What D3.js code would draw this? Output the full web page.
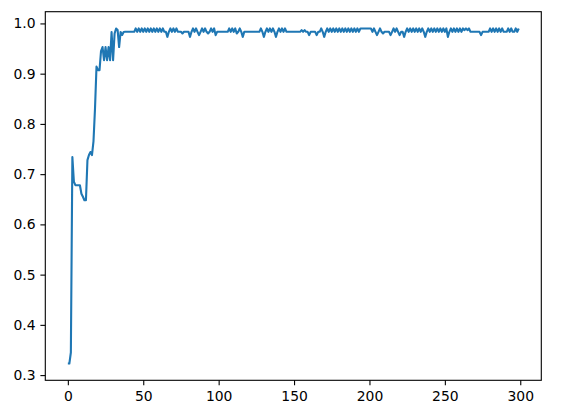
<!DOCTYPE html>
<html>
<head>
<meta charset="utf-8">
<script src="https://cdn.jsdelivr.net/npm/d3@7"></script>
<style>
	body { margin: 0; background: #fff; }
	.tick text { font-family: "DejaVu Sans", sans-serif; font-size: 13.9px; fill: #000; }
	.tick line { stroke: #000; stroke-width: 1.1px; }
</style>
</head>
<body>
<div id="chart"></div>
<script>
var width = 566;
var height = 420;

// accuracy per epoch
var accuracy = [
	0.323, 0.323, 0.345, 0.734, 0.685, 0.678, 0.678, 0.678, 0.678, 0.661,
	0.655, 0.648, 0.648, 0.728, 0.738, 0.744, 0.738, 0.765, 0.83, 0.914,
	0.907, 0.907, 0.945, 0.953, 0.927, 0.953, 0.927, 0.953, 0.927, 0.983,
	0.927, 0.98, 0.99, 0.987, 0.953, 0.983, 0.977, 0.983,
	0.9833, 0.9833, 0.9833, 0.9833, 0.9833, 0.9833, 0.9833, 0.99, 0.9833, 0.99,
	0.9833, 0.99, 0.9833, 0.99, 0.9833, 0.99, 0.9833, 0.99, 0.9833, 0.99,
	0.9833, 0.99, 0.9833, 0.99, 0.9833, 0.99, 0.9833, 0.9833, 0.9733, 0.9833,
	0.99, 0.9833, 0.99, 0.9833, 0.99, 0.9833, 0.9833, 0.9833, 0.98, 0.9833,
	0.9833, 0.9833, 0.9833, 0.9733, 0.9833, 0.99, 0.9833, 0.99, 0.9833, 0.9767,
	0.9833, 0.99, 0.9833, 0.99, 0.9833, 0.98, 0.9833, 0.99, 0.9833, 0.99,
	0.9767, 0.9833, 0.9833, 0.9833, 0.9833, 0.9833, 0.9833, 0.9833, 0.9833, 0.99,
	0.9833, 0.99, 0.9833, 0.99, 0.98, 0.9833, 0.99, 0.9833, 0.9733, 0.9833,
	0.9833, 0.9833, 0.9833, 0.9833, 0.9833, 0.9833, 0.9833, 0.9833, 0.9833, 0.9833,
	0.99, 0.9833, 0.9733, 0.9833, 0.99, 0.9833, 0.99, 0.9833, 0.99, 0.9833,
	0.9733, 0.9833, 0.99, 0.9833, 0.99, 0.9833, 0.99, 0.9833, 0.9833, 0.9833,
	0.9833, 0.9833, 0.9833, 0.9833, 0.9833, 0.9833, 0.9833, 0.9867, 0.9833, 0.9867,
	0.9833, 0.9833, 0.9767, 0.9833, 0.9833, 0.9833, 0.9833, 0.9767, 0.9833, 0.9833,
	0.99, 0.9833, 0.9733, 0.9833, 0.99, 0.9833, 0.99, 0.9833, 0.99, 0.9833,
	0.99, 0.9833, 0.99, 0.9833, 0.99, 0.9833, 0.99, 0.9833, 0.99, 0.9833,
	0.99, 0.9833, 0.99, 0.9833, 0.99, 0.9833, 0.99, 0.99, 0.99, 0.99,
	0.99, 0.99, 0.99, 0.99, 0.9833, 0.99, 0.9833, 0.9767, 0.9833, 0.99,
	0.9833, 0.98, 0.9833, 0.9833, 0.9833, 0.9833, 0.9767, 0.9833, 0.99, 0.9833,
	0.99, 0.9833, 0.9767, 0.9833, 0.9833, 0.9733, 0.9833, 0.99, 0.9833, 0.99,
	0.9833, 0.99, 0.9833, 0.99, 0.9833, 0.99, 0.9833, 0.99, 0.9833, 0.9733,
	0.9833, 0.99, 0.9833, 0.99, 0.9833, 0.99, 0.9833, 0.99, 0.9833, 0.99,
	0.9833, 0.99, 0.9833, 0.99, 0.9733, 0.9833, 0.99, 0.9833, 0.99, 0.9833,
	0.99, 0.9833, 0.99, 0.9833, 0.99, 0.9867, 0.99, 0.9867, 0.99, 0.9833,
	0.9833, 0.9833, 0.9833, 0.9833, 0.9833, 0.9833, 0.9767, 0.9833, 0.9833, 0.9833,
	0.9833, 0.9833, 0.99, 0.9833, 0.99, 0.9833, 0.99, 0.9833, 0.99, 0.9833,
	0.99, 0.9833, 0.9833, 0.9833, 0.99, 0.9833, 0.99, 0.9833, 0.9833, 0.99,
	0.9833, 0.99
];
var xTicks = [0, 50, 100, 150, 200, 250, 300];
var yTicks = [0.3, 0.4, 0.5, 0.6, 0.7, 0.8, 0.9, 1.0];

// axes box (matplotlib default, tight crop)
var boxLeft = 45.3, boxRight = 541.3, boxTop = 11.7, boxBottom = 380.3;

var data = accuracy.map(function(v, i) { return { epoch: i, acc: v }; });

var n = accuracy.length - 1;
var xPad = n * 0.05;
var yExtent = d3.extent(accuracy);
var yPad = (yExtent[1] - yExtent[0]) * 0.05;

var xScale = d3.scaleLinear().domain([-xPad, n + xPad]).range([boxLeft, boxRight]);
var yScale = d3.scaleLinear().domain([yExtent[0] - yPad, yExtent[1] + yPad]).range([boxBottom, boxTop]);

var chart = d3.select("#chart")
	.append("svg")
	.attr("width", width)
	.attr("height", height);

chart.append("rect")
	.attr("width", width)
	.attr("height", height)
	.attr("fill", "#fff");

// the line
chart.append("path")
	.datum(data)
	.attr("fill", "none")
	.attr("stroke", "#1f77b4")
	.attr("stroke-width", 2.1)
	.attr("stroke-linejoin", "round")
	.attr("stroke-linecap", "butt")
	.attr("d", d3.line()
		.x(function(d) { return xScale(d.epoch); })
		.y(function(d) { return yScale(d.acc); }));

// draw axis
var xAxis = d3.axisBottom(xScale)
	.tickValues(xTicks)
	.tickSize(4.9)
	.tickPadding(4.9)
	.tickFormat(d3.format("d"));

var yAxis = d3.axisLeft(yScale)
	.tickValues(yTicks)
	.tickSize(4.9)
	.tickPadding(4.9)
	.tickFormat(d3.format(".1f"));

var gx = chart.append("g")
	.attr("transform", "translate(0," + boxBottom + ")")
	.call(xAxis);
gx.select(".domain").remove();
gx.selectAll(".tick text").attr("dy", "0.78em");

var gy = chart.append("g")
	.attr("transform", "translate(" + boxLeft + ",0)")
	.call(yAxis);
gy.select(".domain").remove();

// frame
chart.append("rect")
	.attr("x", boxLeft)
	.attr("y", boxTop)
	.attr("width", boxRight - boxLeft)
	.attr("height", boxBottom - boxTop)
	.attr("fill", "none")
	.attr("stroke", "#000")
	.attr("stroke-width", 1.1);
</script>
</body>
</html>
